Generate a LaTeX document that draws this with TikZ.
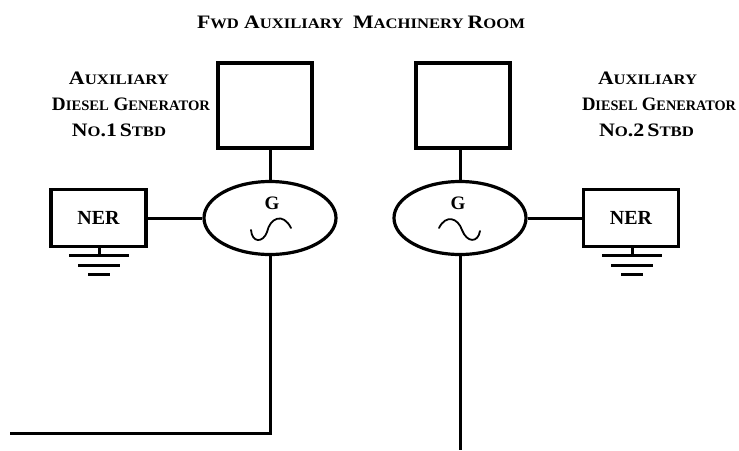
\documentclass[tikz,border=0pt]{standalone}
\usepackage{graphicx}
\usepackage{fontspec}
\setmainfont{Liberation Serif}
\usetikzlibrary{shapes.geometric,calc}
\newcommand{\bg}[1]{{\fontsize{19}{22}\selectfont #1}}
\newcommand{\sm}[1]{{\fontsize{14.5}{22}\selectfont #1}}
\newcommand{\fitw}[2]{\resizebox{#1pt}{\height}{#2}}
\tikzset{
 x=1pt,y=-1pt,
 wire/.style={line width=3pt},
 boxn/.style={draw,line width=3.2pt,rectangle,inner sep=0pt,font=\bfseries\fontsize{20}{22}\selectfont},
 gen/.style={draw,line width=3.2pt,ellipse,minimum width=132pt,minimum height=73pt,inner sep=0pt},
 lbl/.style={font=\bfseries,inner sep=0pt,align=center},
 gnd/.style={line width=3pt},
 wave/.style={line width=1.8pt,line cap=round},
}
\begin{document}
\begin{tikzpicture}
\useasboundingbox (0,0) rectangle (739,450);
\node[lbl] (title) at (361,22) {\fitw{328}{\bg{F}\sm{WD}\hspace{2pt} \bg{A}\sm{UXILIARY}\hspace{6pt} \bg{M}\sm{ACHINERY}\hspace{1pt} \bg{R}\sm{OOM}}};
\node[lbl] (l1a) at (119,78) {\fitw{100}{\bg{A}\sm{UXILIARY}}};
\node[lbl] (l1b) at (131,104) {\fitw{158}{\bg{D}\sm{IESEL}\hspace{2pt} \bg{G}\sm{ENERATOR}}};
\node[lbl] (l1c) at (119,130) {\fitw{94}{\bg{N}\sm{O}\bg{.1} \bg{S}\sm{TBD}}};
\node[lbl] (l2a) at (647.5,78) {\fitw{99}{\bg{A}\sm{UXILIARY}}};
\node[lbl] (l2b) at (659,104) {\fitw{154}{\bg{D}\sm{IESEL}\hspace{2pt} \bg{G}\sm{ENERATOR}}};
\node[lbl] (l2c) at (646.5,130) {\fitw{95}{\bg{N}\sm{O}\bg{.2} \bg{S}\sm{TBD}}};
% engines
\node[boxn,minimum width=94pt,minimum height=85pt] (e1) at (265,105.5) {};
\node[boxn,minimum width=94pt,minimum height=85pt] (e2) at (463,105.5) {};
% generators
\node[gen] (g1) at (270,218) {};
\node[gen] (g2) at (460,218) {};
\node[font=\bfseries\fontsize{19}{20}\selectfont,inner sep=0pt] (g1t) at (272,203) {G};
\node[font=\bfseries\fontsize{19}{20}\selectfont,inner sep=0pt] (g2t) at (458,203) {G};
\draw[wave] (251,230) .. controls (252,243) and (263,243) .. (267,232)
  .. controls (270,218) and (283,212) .. (291,228);
\draw[wave] (439,228) .. controls (446,214) and (458,218) .. (462,230)
  .. controls (467,243) and (478,243) .. (480,231);
% NER
\node[boxn,minimum width=95pt,minimum height=57pt] (n1) at (98.5,218) {NER};
\node[boxn,minimum width=95pt,minimum height=57pt] (n2) at (631,218) {NER};
% connectors
\draw[wire] (g1.west) -- (n1.east);
\draw[wire] (g2.east) -- (n2.west);
\draw[wire] (g1.north) -- (g1.north |- e1.south);
\draw[wire] (g2.north) -- (g2.north |- e2.south);
\coordinate (k1) at (270,433);
\coordinate (k2) at (10,433);
\coordinate (k3) at (460,450);
\draw[wire,line join=miter] (g1.south) -- (k1) -- (k2);
\draw[wire] (g2.south) -- (k3);
% grounds
\coordinate (b1) at (99,255);
\coordinate (b2) at (632,255);
\draw[gnd] (n1.south -| b1) -- (b1);
\draw[gnd] (n2.south -| b2) -- (b2);
\foreach \c in {b1,b2}{
 \draw[gnd] ($(\c)+(-30,0)$) -- ($(\c)+(30,0)$);
 \draw[gnd] ($(\c)+(-21,10)$) -- ($(\c)+(21,10)$);
 \draw[gnd] ($(\c)+(-11,19)$) -- ($(\c)+(11,19)$);
}
\end{tikzpicture}
\end{document}
